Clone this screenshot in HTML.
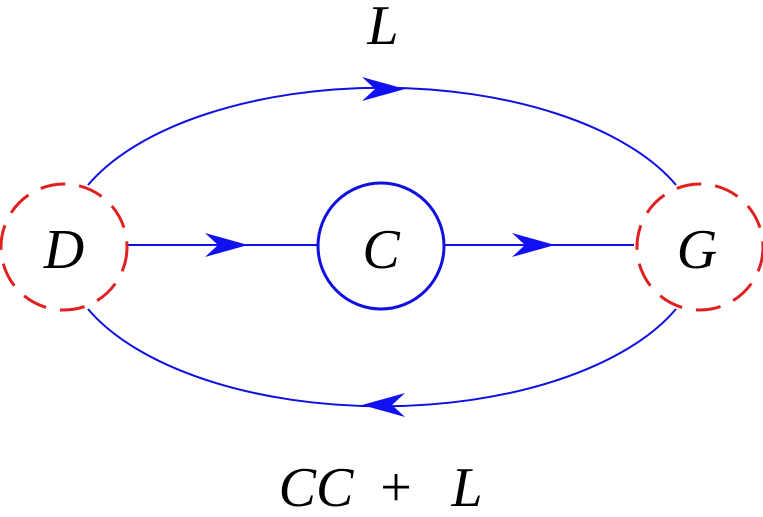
<!DOCTYPE html>
<html><head><style>body{margin:0;background:#fff}</style></head><body>
<svg width="763" height="512" viewBox="0 0 763 512" xmlns="http://www.w3.org/2000/svg">
<g fill="none" stroke="#1010e0" stroke-width="2">
<path d="M88,185 A319,159 0 0 1 676,185"/>
<path d="M88,309 A319,159 0 0 0 676,309"/>
<line x1="128" y1="245" x2="318" y2="245"/>
<line x1="445" y1="245" x2="634" y2="245"/>
<circle cx="381" cy="246" r="63" stroke-width="3"/>
</g>
<g fill="none" stroke="#e02020" stroke-width="3" stroke-dasharray="25,14">
<circle cx="64" cy="247" r="63"/>
<circle cx="700" cy="247" r="63"/>
</g>
<g fill="#1010f0">
<path d="M205,233 L248,245 L205,257 L218,245 Z"/>
<path d="M512,233 L555,245 L512,257 L525,245 Z"/>
<path d="M362,77 L405,89 L362,101 L375,89 Z"/>
<path d="M405,393 L362,405 L405,417 L392,405 Z"/>
</g>
<g font-family="Liberation Serif, serif" font-style="italic" font-size="56" text-anchor="middle" fill="#000">
<text x="64" y="268">D</text>
<text x="381" y="268">C</text>
<text x="697" y="268">G</text>
<text x="383" y="44">L</text>
<text x="316" y="506">CC</text>
<text x="396" y="506" font-style="normal">+</text>
<text x="467" y="506">L</text>
</g>
</svg>
</body></html>
